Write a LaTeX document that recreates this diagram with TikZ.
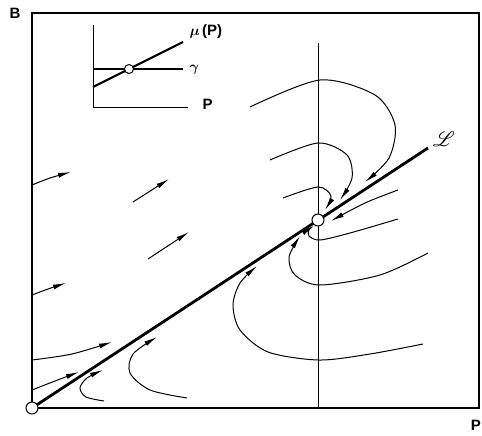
\documentclass[tikz,border=0pt]{standalone}
\usepackage{amsmath}
\usepackage{bm}
\usepackage{fontspec}
\setmainfont{Liberation Sans}
\usepackage{mathrsfs}
\usetikzlibrary{arrows.meta}

\begin{document}
\begin{tikzpicture}[
  x=1pt, y=-1pt,
  every node/.style={font=\fontsize{15}{17}\selectfont\bfseries},
  frame/.style={line width=1.5pt},
  flow/.style={line width=1pt},
  arr/.style={flow, -{Latex[length=13pt,width=5pt]}},
  manifold/.style={line width=2.8pt},
  fp/.style={circle, draw, fill=white, line width=1pt, inner sep=0pt, minimum size=12pt},
  smallfp/.style={fp, minimum size=9pt},
]
  \useasboundingbox (0,0) rectangle (482,436);

  % axes and frame
  \draw[frame] (32,408) -- (32,13) -- (479,13) -- (479,408) -- cycle;
  \node (B) at (15,13) {B};
  \node[anchor=east, inner sep=1pt] (P) at (482,425) {P};
  \draw[flow] (318,43) -- (318,408);

  % invariant line L through the fixed point
  \coordinate (O) at (32,408);
  \coordinate (S) at (318,220);
  \coordinate (Lend) at (428,148);
  \draw[manifold] (O) -- (Lend);
  \node (Llab) at (444,139) {\fontsize{21}{22}\selectfont$\mathscr{L}$};

  % flow left of L
  \draw[arr] plot[smooth] coordinates {(32,185) (50,178) (71,172)};
  \draw[arr] plot[smooth] coordinates {(32,295) (48,289) (66,283)};
  \draw[arr] plot[smooth] coordinates {(32,360) (72,354) (112,342)};
  \draw[arr] plot[smooth] coordinates {(32,390) (55,381) (79,372)};
  \draw[arr] (133,202) -- (169,179);
  \draw[arr] (148,259) -- (189,232);

  % flow below L
  \draw[arr] plot[smooth] coordinates {(104,401) (86,397) (80,388) (87,378) (103,370)};
  \draw[arr] plot[smooth] coordinates {(187,398) (150,390) (130,373) (133,354) (157,337)};
  \draw[arr] plot[smooth] coordinates {(423,344) (370,354) (319,360) (268,352) (240,330) (233,305) (240,283) (257,266)};
  \draw[arr] plot[smooth] coordinates {(428,253) (380,275) (320,285) (295,275) (289,257) (300,236)};
  \draw[arr] plot[smooth] coordinates {(398,219) (350,233) (320,240) (309,236) (309,230) (314,226)};

  % flow above L
  \draw[arr] plot[smooth] coordinates {(398,190) (365,203) (331,221)};
  \draw[arr] plot[smooth] coordinates {(250,107) (320,80) (375,95) (395,125) (389,158) (365,182)};
  \draw[arr] plot[smooth] coordinates {(270,160) (318,143) (347,155) (352,178) (340,200)};
  \draw[arr] plot[smooth] coordinates {(283,198) (318,187) (331,196) (325,210)};

  \node[fp] (Ofp) at (O) {};
  \node[fp] (Sfp) at (S) {};

  % inset
  \draw[flow] (93,25) -- (93,107) -- (188,107);
  \draw[line width=2pt] (93,69) -- (183,69);
  \draw[line width=2.2pt] (93,87) -- (183,42);
  \node[smallfp] (X) at (129,69) {};
  \node[anchor=west] (mu) at (186,32) {$\bm{\mu}$\,(P)};
  \node[anchor=west] (gam) at (186,70) {$\bm{\gamma}$};
  \node[anchor=west] (Pin) at (199,104) {P};
\end{tikzpicture}
\end{document}
